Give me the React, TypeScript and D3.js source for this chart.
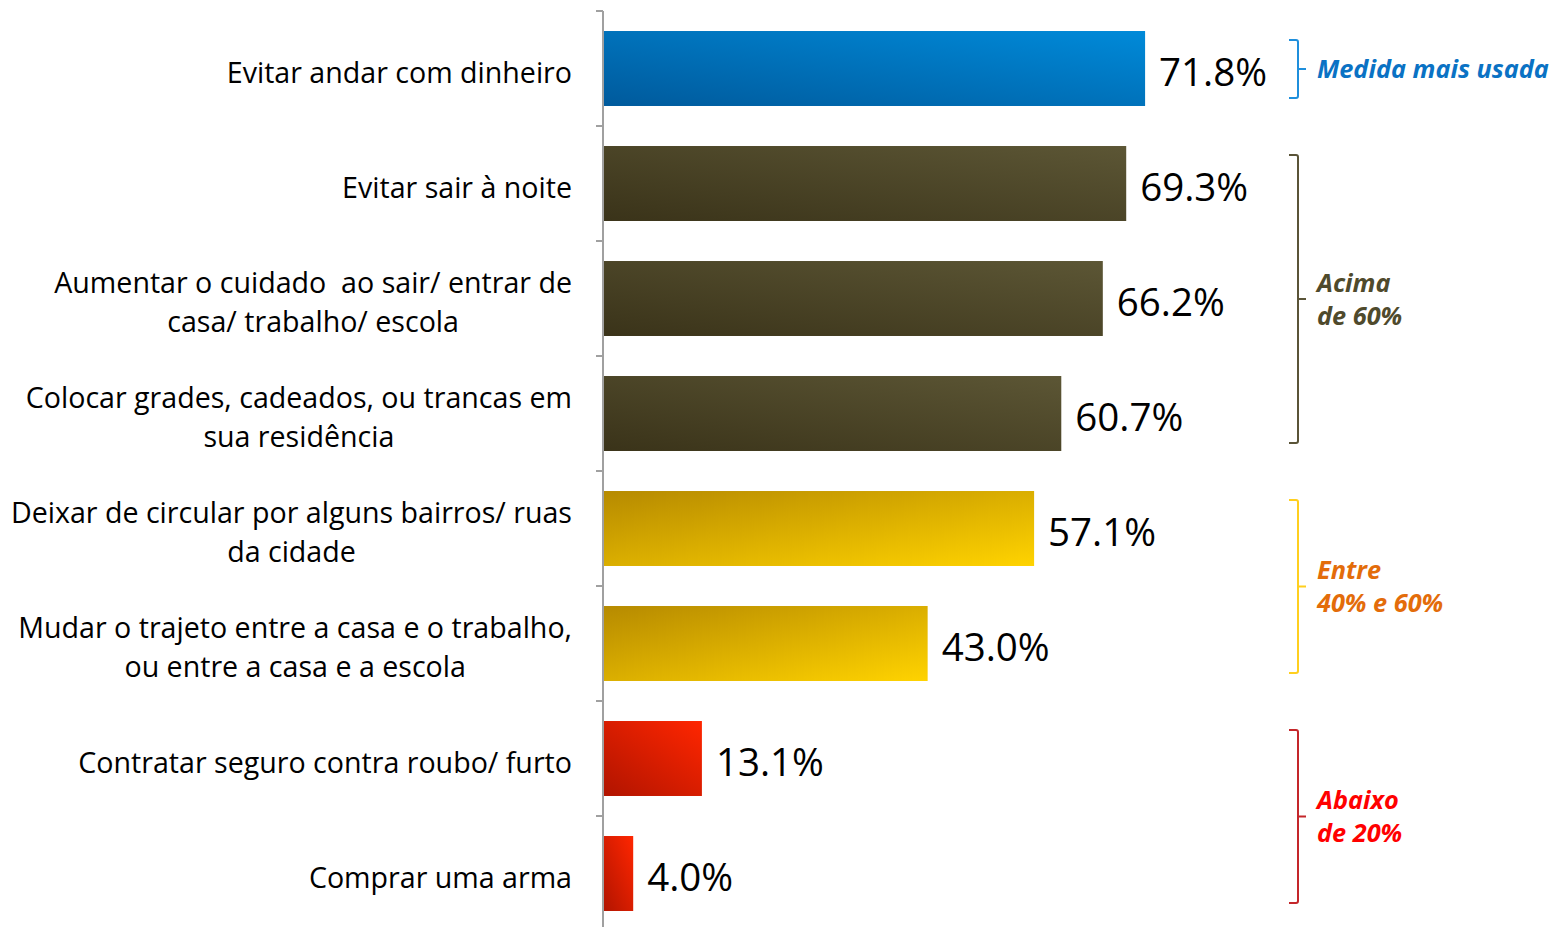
import React, { useEffect, useRef } from 'react';
import * as d3 from 'd3';

// survey answers, top to bottom
const categories = [
  ['Evitar andar com dinheiro'],
  ['Evitar sair à noite'],
  ['Aumentar o cuidado  ao sair/ entrar de', 'casa/ trabalho/ escola'],
  ['Colocar grades, cadeados, ou trancas em', 'sua residência'],
  ['Deixar de circular por alguns bairros/ ruas', 'da cidade'],
  ['Mudar o trajeto entre a casa e o trabalho,', 'ou entre a casa e a escola'],
  ['Contratar seguro contra roubo/ furto'],
  ['Comprar uma arma'],
];
const values = [71.8, 69.3, 66.2, 60.7, 57.1, 43.0, 13.1, 4.0];
const barGroup = ['blue', 'olive', 'olive', 'olive', 'yellow', 'yellow', 'red', 'red'];

const groupKeys = ['blue', 'olive', 'yellow', 'red'];
const groupLabels = [
  ['Medida mais usada'],
  ['Acima', 'de 60%'],
  ['Entre', '40% e 60%'],
  ['Abaixo', 'de 20%'],
];

const W = 1553;
const H = 927;

const gradients: Record<string, { from: string; to: string; x1: number; y1: number; x2: number; y2: number }> = {
  blue: { from: '#005a9c', to: '#008ad9', x1: 0, y1: 1, x2: 1, y2: 0 },
  olive: { from: '#3a3319', to: '#5c5635', x1: 0, y1: 1, x2: 1, y2: 0 },
  yellow: { from: '#b68a00', to: '#ffd300', x1: 0, y1: 0, x2: 1, y2: 1 },
  red: { from: '#b01400', to: '#ff2600', x1: 0, y1: 1, x2: 1, y2: 0 },
};
const bracketColor: Record<string, string> = {
  blue: '#1f8fdc',
  olive: '#5a5438',
  yellow: '#ffcf1f',
  red: '#c4262a',
};
const textColor: Record<string, string> = {
  blue: '#0a72c4',
  olive: '#4f4a2c',
  yellow: '#e36c0a',
  red: '#ff0000',
};

export default function App() {
  const ref = useRef<SVGSVGElement>(null);

  useEffect(() => {
    const svg = d3.select(ref.current);
    svg.selectAll('*').remove();

    const y = d3.scaleBand<number>()
      .domain(d3.range(values.length))
      .range([11, 931])
      .paddingInner(0.348)
      .paddingOuter(0.174);
    const x = d3.scaleLinear().domain([0, 100]).range([603, 1358]);
    const bw = y.bandwidth();

    const defs = svg.append('defs');
    Object.entries(gradients).forEach(([k, g]) => {
      const lg = defs.append('linearGradient')
        .attr('id', 'grad-' + k)
        .attr('x1', g.x1).attr('y1', g.y1).attr('x2', g.x2).attr('y2', g.y2);
      lg.append('stop').attr('offset', '0%').attr('stop-color', g.from);
      lg.append('stop').attr('offset', '100%').attr('stop-color', g.to);
    });

    // bars
    svg.append('g')
      .selectAll('rect')
      .data(values)
      .join('rect')
      .attr('x', x(0))
      .attr('y', (d, i) => y(i)!)
      .attr('width', d => x(d) - x(0))
      .attr('height', bw)
      .attr('fill', (d, i) => `url(#grad-${barGroup[i]})`);

    // axis line and ticks
    const axis = svg.append('g');
    axis.append('line')
      .attr('x1', x(0)).attr('x2', x(0))
      .attr('y1', 11).attr('y2', H)
      .attr('stroke', '#a0a0a0').attr('stroke-width', 2);
    axis.selectAll('line.tick')
      .data(d3.range(values.length + 1))
      .join('line')
      .attr('class', 'tick')
      .attr('x1', x(0) - 7).attr('x2', x(0))
      .attr('y1', i => y.step() * i + 11)
      .attr('y2', i => y.step() * i + 11)
      .attr('stroke', '#a0a0a0').attr('stroke-width', 2);

    // value labels
    svg.append('g')
      .selectAll('text')
      .data(values)
      .join('text')
      .attr('x', d => x(d) + 14)
      .attr('y', (d, i) => y(i)! + bw / 2 + 17)
      .attr('font-family', 'Open Sans')
      .attr('font-size', 38.5)
      .attr('fill', '#000')
      .text(d => d.toFixed(1) + '%');

    // category labels: block right-aligned, lines centred within block
    const catG = svg.append('g')
      .attr('font-family', 'Open Sans')
      .attr('font-size', 28.6)
      .attr('fill', '#000');
    const right = 572;
    categories.forEach((lines, i) => {
      const c = y(i)! + bw / 2 + 4;
      const texts = lines.map((ln, j) =>
        catG.append('text')
          .attr('xml:space', 'preserve')
          .style('white-space', 'pre')
          .attr('y', c + (j - (lines.length - 1) / 2) * 39.5 + 10)
          .attr('text-anchor', 'middle')
          .text(ln)
      );
      const maxW = d3.max(texts, t => (t.node() as SVGTextElement).getComputedTextLength()) || 0;
      texts.forEach(t => t.attr('x', right - maxW / 2));
    });

    // group brackets
    const brG = svg.append('g');
    groupKeys.forEach((k, gi) => {
      const idx = barGroup.map((b, i) => (b === k ? i : -1)).filter(i => i >= 0);
      const top = y(idx[0])! + 9;
      const bot = y(idx[idx.length - 1])! + bw - 8;
      const mid = (top + bot) / 2;
      const vx = 1298;
      const path = d3.path();
      path.moveTo(vx - 9, top);
      path.lineTo(vx - 2, top);
      path.quadraticCurveTo(vx, top, vx, top + 2);
      path.lineTo(vx, bot - 2);
      path.quadraticCurveTo(vx, bot, vx - 2, bot);
      path.lineTo(vx - 9, bot);
      path.moveTo(vx, mid);
      path.lineTo(vx + 8, mid);
      brG.append('path')
        .attr('d', path.toString())
        .attr('fill', 'none')
        .attr('stroke', bracketColor[k])
        .attr('stroke-width', 2);

      const lines = groupLabels[gi];
      lines.forEach((ln, j) => {
        brG.append('text')
          .attr('x', 1317)
          .attr('y', mid + (j - (lines.length - 1) / 2) * 33 + 9)
          .attr('font-family', 'Open Sans')
          .attr('font-weight', 'bold')
          .attr('font-style', 'italic')
          .attr('font-size', 25.3)
          .attr('fill', textColor[k])
          .text(ln);
      });
    });
  }, []);

  return (
    <svg
      ref={ref}
      width={W}
      height={H}
      style={{ position: 'absolute', left: 0, top: 0, background: '#fff' }}
    />
  );
}
